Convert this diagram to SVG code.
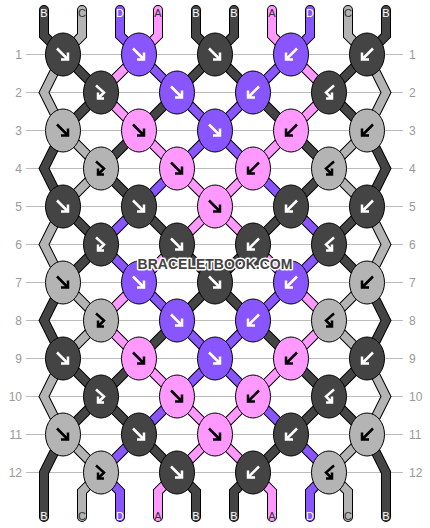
<svg xmlns="http://www.w3.org/2000/svg" xmlns:xlink="http://www.w3.org/1999/xlink" width="430" height="528" viewBox="0 0 430 528">
<style>
.g{stroke:#bbb;stroke-width:1}
.rn{font-family:"Liberation Sans",Arial,sans-serif;font-size:12px;fill:#999}
.o{fill:none;stroke:#000;stroke-width:10;stroke-linecap:round;stroke-linejoin:miter}
.s{fill:none;stroke-width:8;stroke-linecap:round;stroke-linejoin:miter}
.sdk{stroke:#444}.slt{stroke:#b4b4b4}.spu{stroke:#8855ff}.spk{stroke:#ff99ff}
.k{stroke:#000;stroke-width:1}
.dk{fill:#444}.lt{fill:#b4b4b4}.pu{fill:#8855ff}.pk{fill:#ff99ff}
.aw{fill:none;stroke:#fff;stroke-width:2.5}
.ab{fill:none;stroke:#000;stroke-width:2.5}
.lb{font-family:"Liberation Sans",Arial,sans-serif;font-size:11px;text-anchor:middle}
.lw{fill:#fff}.ld{fill:#333}
.wm{font-family:"Liberation Sans",Arial,sans-serif;font-size:14px;font-weight:bold;fill:#444;stroke:#fff;stroke-width:3;paint-order:stroke;stroke-linejoin:round;text-anchor:middle}
</style>
<defs>
<path id="af" d="M-6,-6 L5,5 M5,-2 V5 H-2"/>
<path id="ab" d="M6,-6 L-5,5 M-5,-2 V5 H2"/>
<path id="afb" d="M-5,-7 L3,0 L-3,6 M-3,0 V6 H3"/>
<path id="abf" d="M5,-7 L-3,0 L3,6 M3,0 V6 H-3"/>
<path id="sB1" d="M44,10 V35.5 L63,54.5 L101,92.5 L63,130.5 L44,168.5 L63,206.5 L101,244.5 L63,282.5 L44,320.5 L63,358.5 L101,396.5 L63,434.5 L44,472.5 V517"/>
<path id="sC1" d="M82,10 V35.5 L63,54.5 L44,92.5 L63,130.5 L101,168.5 L63,206.5 L44,244.5 L63,282.5 L101,320.5 L63,358.5 L44,396.5 L63,434.5 L101,472.5 L82,491.5 V517"/>
<path id="sD1" d="M120,10 V35.5 L139,54.5 L177,92.5 L215,130.5 L253,168.5 L291,206.5 L329,244.5 L291,282.5 L253,320.5 L215,358.5 L177,396.5 L139,434.5 L101,472.5 L120,491.5 V517"/>
<path id="sA1" d="M158,10 V35.5 L139,54.5 L101,92.5 L139,130.5 L177,168.5 L215,206.5 L253,244.5 L291,282.5 L329,320.5 L291,358.5 L253,396.5 L215,434.5 L177,472.5 L158,491.5 V517"/>
<path id="sB2" d="M196,10 V35.5 L215,54.5 L253,92.5 L291,130.5 L329,168.5 L291,206.5 L253,244.5 L215,282.5 L177,320.5 L139,358.5 L101,396.5 L139,434.5 L177,472.5 L196,491.5 V517"/>
<path id="sB3" d="M234,10 V35.5 L215,54.5 L177,92.5 L139,130.5 L101,168.5 L139,206.5 L177,244.5 L215,282.5 L253,320.5 L291,358.5 L329,396.5 L291,434.5 L253,472.5 L234,491.5 V517"/>
<path id="sA2" d="M272,10 V35.5 L291,54.5 L329,92.5 L291,130.5 L253,168.5 L215,206.5 L177,244.5 L139,282.5 L101,320.5 L139,358.5 L177,396.5 L215,434.5 L253,472.5 L272,491.5 V517"/>
<path id="sD2" d="M310,10 V35.5 L291,54.5 L253,92.5 L215,130.5 L177,168.5 L139,206.5 L101,244.5 L139,282.5 L177,320.5 L215,358.5 L253,396.5 L291,434.5 L329,472.5 L310,491.5 V517"/>
<path id="sC2" d="M348,10 V35.5 L367,54.5 L386,92.5 L367,130.5 L329,168.5 L367,206.5 L386,244.5 L367,282.5 L329,320.5 L367,358.5 L386,396.5 L367,434.5 L329,472.5 L348,491.5 V517"/>
<path id="sB4" d="M386,10 V35.5 L367,54.5 L329,92.5 L367,130.5 L386,168.5 L367,206.5 L329,244.5 L367,282.5 L386,320.5 L367,358.5 L329,396.5 L367,434.5 L386,472.5 V517"/>
</defs>
<rect width="430" height="528" fill="#fff"/>
<g id="grid">
<line class="g" x1="26" y1="54.5" x2="403" y2="54.5"/>
<line class="g" x1="26" y1="92.5" x2="403" y2="92.5"/>
<line class="g" x1="26" y1="130.5" x2="403" y2="130.5"/>
<line class="g" x1="26" y1="168.5" x2="403" y2="168.5"/>
<line class="g" x1="26" y1="206.5" x2="403" y2="206.5"/>
<line class="g" x1="26" y1="244.5" x2="403" y2="244.5"/>
<line class="g" x1="26" y1="282.5" x2="403" y2="282.5"/>
<line class="g" x1="26" y1="320.5" x2="403" y2="320.5"/>
<line class="g" x1="26" y1="358.5" x2="403" y2="358.5"/>
<line class="g" x1="26" y1="396.5" x2="403" y2="396.5"/>
<line class="g" x1="26" y1="434.5" x2="403" y2="434.5"/>
<line class="g" x1="26" y1="472.5" x2="403" y2="472.5"/>
</g>
<g id="row-numbers" class="rn">
<text x="22" y="59" text-anchor="end">1</text><text x="409" y="59">1</text>
<text x="22" y="97" text-anchor="end">2</text><text x="409" y="97">2</text>
<text x="22" y="135" text-anchor="end">3</text><text x="409" y="135">3</text>
<text x="22" y="173" text-anchor="end">4</text><text x="409" y="173">4</text>
<text x="22" y="211" text-anchor="end">5</text><text x="409" y="211">5</text>
<text x="22" y="249" text-anchor="end">6</text><text x="409" y="249">6</text>
<text x="22" y="287" text-anchor="end">7</text><text x="409" y="287">7</text>
<text x="22" y="325" text-anchor="end">8</text><text x="409" y="325">8</text>
<text x="22" y="363" text-anchor="end">9</text><text x="409" y="363">9</text>
<text x="22" y="401" text-anchor="end">10</text><text x="409" y="401">10</text>
<text x="22" y="439" text-anchor="end">11</text><text x="409" y="439">11</text>
<text x="22" y="477" text-anchor="end">12</text><text x="409" y="477">12</text>
</g>
<g id="connectors">
<use xlink:href="#sB1" class="o"/><use xlink:href="#sC1" class="o"/><use xlink:href="#sD1" class="o"/><use xlink:href="#sA1" class="o"/><use xlink:href="#sB2" class="o"/>
<use xlink:href="#sB3" class="o"/><use xlink:href="#sA2" class="o"/><use xlink:href="#sD2" class="o"/><use xlink:href="#sC2" class="o"/><use xlink:href="#sB4" class="o"/>
<use xlink:href="#sB1" class="s sdk"/><use xlink:href="#sC1" class="s slt"/><use xlink:href="#sD1" class="s spu"/><use xlink:href="#sA1" class="s spk"/><use xlink:href="#sB2" class="s sdk"/>
<use xlink:href="#sB3" class="s sdk"/><use xlink:href="#sA2" class="s spk"/><use xlink:href="#sD2" class="s spu"/><use xlink:href="#sC2" class="s slt"/><use xlink:href="#sB4" class="s sdk"/>
</g>
<g id="string-labels" class="lb">
<text x="44" y="17" class="lw">B</text><text x="82" y="17" class="ld">C</text><text x="120" y="17" class="lw">D</text><text x="158" y="17" class="ld">A</text><text x="196" y="17" class="lw">B</text>
<text x="234" y="17" class="lw">B</text><text x="272" y="17" class="ld">A</text><text x="310" y="17" class="lw">D</text><text x="348" y="17" class="ld">C</text><text x="386" y="17" class="lw">B</text>
<text x="44" y="520" class="lw">B</text><text x="82" y="520" class="ld">C</text><text x="120" y="520" class="lw">D</text><text x="158" y="520" class="ld">A</text><text x="196" y="520" class="lw">B</text>
<text x="234" y="520" class="lw">B</text><text x="272" y="520" class="ld">A</text><text x="310" y="520" class="lw">D</text><text x="348" y="520" class="ld">C</text><text x="386" y="520" class="lw">B</text>
</g>
<g id="knots">
<g id="k1-1"><ellipse class="k dk" cx="63" cy="54.5" rx="17.5" ry="21.5"/><use xlink:href="#af" x="63" y="54.5" class="aw"/></g>
<g id="k1-2"><ellipse class="k pu" cx="139" cy="54.5" rx="17.5" ry="21.5"/><use xlink:href="#af" x="139" y="54.5" class="aw"/></g>
<g id="k1-3"><ellipse class="k dk" cx="215" cy="54.5" rx="17.5" ry="21.5"/><use xlink:href="#af" x="215" y="54.5" class="aw"/></g>
<g id="k1-4"><ellipse class="k pu" cx="291" cy="54.5" rx="17.5" ry="21.5"/><use xlink:href="#ab" x="291" y="54.5" class="aw"/></g>
<g id="k1-5"><ellipse class="k dk" cx="367" cy="54.5" rx="17.5" ry="21.5"/><use xlink:href="#ab" x="367" y="54.5" class="aw"/></g>
<g id="k2-1"><ellipse class="k dk" cx="101" cy="92.5" rx="17.5" ry="21.5"/><use xlink:href="#afb" x="101" y="92.5" class="aw"/></g>
<g id="k2-2"><ellipse class="k pu" cx="177" cy="92.5" rx="17.5" ry="21.5"/><use xlink:href="#af" x="177" y="92.5" class="aw"/></g>
<g id="k2-3"><ellipse class="k pu" cx="253" cy="92.5" rx="17.5" ry="21.5"/><use xlink:href="#ab" x="253" y="92.5" class="aw"/></g>
<g id="k2-4"><ellipse class="k dk" cx="329" cy="92.5" rx="17.5" ry="21.5"/><use xlink:href="#abf" x="329" y="92.5" class="aw"/></g>
<g id="k3-1"><ellipse class="k lt" cx="63" cy="130.5" rx="17.5" ry="21.5"/><use xlink:href="#af" x="63" y="130.5" class="ab"/></g>
<g id="k3-2"><ellipse class="k pk" cx="139" cy="130.5" rx="17.5" ry="21.5"/><use xlink:href="#af" x="139" y="130.5" class="ab"/></g>
<g id="k3-3"><ellipse class="k pu" cx="215" cy="130.5" rx="17.5" ry="21.5"/><use xlink:href="#af" x="215" y="130.5" class="aw"/></g>
<g id="k3-4"><ellipse class="k pk" cx="291" cy="130.5" rx="17.5" ry="21.5"/><use xlink:href="#ab" x="291" y="130.5" class="ab"/></g>
<g id="k3-5"><ellipse class="k lt" cx="367" cy="130.5" rx="17.5" ry="21.5"/><use xlink:href="#ab" x="367" y="130.5" class="ab"/></g>
<g id="k4-1"><ellipse class="k lt" cx="101" cy="168.5" rx="17.5" ry="21.5"/><use xlink:href="#afb" x="101" y="168.5" class="ab"/></g>
<g id="k4-2"><ellipse class="k pk" cx="177" cy="168.5" rx="17.5" ry="21.5"/><use xlink:href="#af" x="177" y="168.5" class="ab"/></g>
<g id="k4-3"><ellipse class="k pk" cx="253" cy="168.5" rx="17.5" ry="21.5"/><use xlink:href="#ab" x="253" y="168.5" class="ab"/></g>
<g id="k4-4"><ellipse class="k lt" cx="329" cy="168.5" rx="17.5" ry="21.5"/><use xlink:href="#abf" x="329" y="168.5" class="ab"/></g>
<g id="k5-1"><ellipse class="k dk" cx="63" cy="206.5" rx="17.5" ry="21.5"/><use xlink:href="#af" x="63" y="206.5" class="aw"/></g>
<g id="k5-2"><ellipse class="k dk" cx="139" cy="206.5" rx="17.5" ry="21.5"/><use xlink:href="#af" x="139" y="206.5" class="aw"/></g>
<g id="k5-3"><ellipse class="k pk" cx="215" cy="206.5" rx="17.5" ry="21.5"/><use xlink:href="#af" x="215" y="206.5" class="ab"/></g>
<g id="k5-4"><ellipse class="k dk" cx="291" cy="206.5" rx="17.5" ry="21.5"/><use xlink:href="#ab" x="291" y="206.5" class="aw"/></g>
<g id="k5-5"><ellipse class="k dk" cx="367" cy="206.5" rx="17.5" ry="21.5"/><use xlink:href="#ab" x="367" y="206.5" class="aw"/></g>
<g id="k6-1"><ellipse class="k dk" cx="101" cy="244.5" rx="17.5" ry="21.5"/><use xlink:href="#afb" x="101" y="244.5" class="aw"/></g>
<g id="k6-2"><ellipse class="k dk" cx="177" cy="244.5" rx="17.5" ry="21.5"/><use xlink:href="#af" x="177" y="244.5" class="aw"/></g>
<g id="k6-3"><ellipse class="k dk" cx="253" cy="244.5" rx="17.5" ry="21.5"/><use xlink:href="#ab" x="253" y="244.5" class="aw"/></g>
<g id="k6-4"><ellipse class="k dk" cx="329" cy="244.5" rx="17.5" ry="21.5"/><use xlink:href="#abf" x="329" y="244.5" class="aw"/></g>
<g id="k7-1"><ellipse class="k lt" cx="63" cy="282.5" rx="17.5" ry="21.5"/><use xlink:href="#af" x="63" y="282.5" class="ab"/></g>
<g id="k7-2"><ellipse class="k pu" cx="139" cy="282.5" rx="17.5" ry="21.5"/><use xlink:href="#af" x="139" y="282.5" class="aw"/></g>
<g id="k7-3"><ellipse class="k dk" cx="215" cy="282.5" rx="17.5" ry="21.5"/><use xlink:href="#af" x="215" y="282.5" class="aw"/></g>
<g id="k7-4"><ellipse class="k pu" cx="291" cy="282.5" rx="17.5" ry="21.5"/><use xlink:href="#ab" x="291" y="282.5" class="aw"/></g>
<g id="k7-5"><ellipse class="k lt" cx="367" cy="282.5" rx="17.5" ry="21.5"/><use xlink:href="#ab" x="367" y="282.5" class="ab"/></g>
<g id="k8-1"><ellipse class="k lt" cx="101" cy="320.5" rx="17.5" ry="21.5"/><use xlink:href="#afb" x="101" y="320.5" class="ab"/></g>
<g id="k8-2"><ellipse class="k pu" cx="177" cy="320.5" rx="17.5" ry="21.5"/><use xlink:href="#af" x="177" y="320.5" class="aw"/></g>
<g id="k8-3"><ellipse class="k pu" cx="253" cy="320.5" rx="17.5" ry="21.5"/><use xlink:href="#ab" x="253" y="320.5" class="aw"/></g>
<g id="k8-4"><ellipse class="k lt" cx="329" cy="320.5" rx="17.5" ry="21.5"/><use xlink:href="#abf" x="329" y="320.5" class="ab"/></g>
<g id="k9-1"><ellipse class="k dk" cx="63" cy="358.5" rx="17.5" ry="21.5"/><use xlink:href="#af" x="63" y="358.5" class="aw"/></g>
<g id="k9-2"><ellipse class="k pk" cx="139" cy="358.5" rx="17.5" ry="21.5"/><use xlink:href="#af" x="139" y="358.5" class="ab"/></g>
<g id="k9-3"><ellipse class="k pu" cx="215" cy="358.5" rx="17.5" ry="21.5"/><use xlink:href="#af" x="215" y="358.5" class="aw"/></g>
<g id="k9-4"><ellipse class="k pk" cx="291" cy="358.5" rx="17.5" ry="21.5"/><use xlink:href="#ab" x="291" y="358.5" class="ab"/></g>
<g id="k9-5"><ellipse class="k dk" cx="367" cy="358.5" rx="17.5" ry="21.5"/><use xlink:href="#ab" x="367" y="358.5" class="aw"/></g>
<g id="k10-1"><ellipse class="k dk" cx="101" cy="396.5" rx="17.5" ry="21.5"/><use xlink:href="#afb" x="101" y="396.5" class="aw"/></g>
<g id="k10-2"><ellipse class="k pk" cx="177" cy="396.5" rx="17.5" ry="21.5"/><use xlink:href="#af" x="177" y="396.5" class="ab"/></g>
<g id="k10-3"><ellipse class="k pk" cx="253" cy="396.5" rx="17.5" ry="21.5"/><use xlink:href="#ab" x="253" y="396.5" class="ab"/></g>
<g id="k10-4"><ellipse class="k dk" cx="329" cy="396.5" rx="17.5" ry="21.5"/><use xlink:href="#abf" x="329" y="396.5" class="aw"/></g>
<g id="k11-1"><ellipse class="k lt" cx="63" cy="434.5" rx="17.5" ry="21.5"/><use xlink:href="#af" x="63" y="434.5" class="ab"/></g>
<g id="k11-2"><ellipse class="k dk" cx="139" cy="434.5" rx="17.5" ry="21.5"/><use xlink:href="#af" x="139" y="434.5" class="aw"/></g>
<g id="k11-3"><ellipse class="k pk" cx="215" cy="434.5" rx="17.5" ry="21.5"/><use xlink:href="#af" x="215" y="434.5" class="ab"/></g>
<g id="k11-4"><ellipse class="k dk" cx="291" cy="434.5" rx="17.5" ry="21.5"/><use xlink:href="#ab" x="291" y="434.5" class="aw"/></g>
<g id="k11-5"><ellipse class="k lt" cx="367" cy="434.5" rx="17.5" ry="21.5"/><use xlink:href="#ab" x="367" y="434.5" class="ab"/></g>
<g id="k12-1"><ellipse class="k lt" cx="101" cy="472.5" rx="17.5" ry="21.5"/><use xlink:href="#afb" x="101" y="472.5" class="ab"/></g>
<g id="k12-2"><ellipse class="k dk" cx="177" cy="472.5" rx="17.5" ry="21.5"/><use xlink:href="#af" x="177" y="472.5" class="aw"/></g>
<g id="k12-3"><ellipse class="k dk" cx="253" cy="472.5" rx="17.5" ry="21.5"/><use xlink:href="#ab" x="253" y="472.5" class="aw"/></g>
<g id="k12-4"><ellipse class="k lt" cx="329" cy="472.5" rx="17.5" ry="21.5"/><use xlink:href="#abf" x="329" y="472.5" class="ab"/></g>
</g>
<text id="watermark" class="wm" x="215" y="268.5">BRACELETBOOK.COM</text>
</svg>
